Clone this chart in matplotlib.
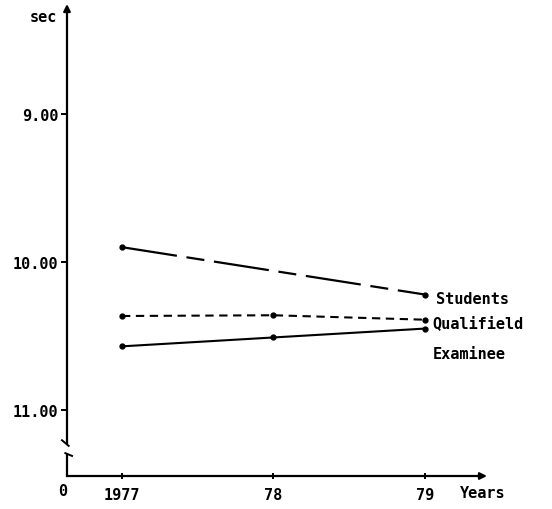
import matplotlib
matplotlib.use("Agg")
import matplotlib.pyplot as plt

# values (seconds, y axis runs downward)
years_students = [1977, 1979]
students = [9.90, 10.22]
years_other = [1977, 1978, 1979]
qualified = [10.365, 10.36, 10.39]
examinee = [10.57, 10.51, 10.45]
year_ticks = [1977, 1978, 1979]
year_labels = ["1977", "78", "79"]
sec_ticks = [9.0, 10.0, 11.0]
sec_labels = ["9.00", "10.00", "11.00"]

plt.rcParams["lines.scale_dashes"] = False
font = dict(family="DejaVu Sans Mono", weight="bold", size=11)

W, H = 552, 510
fig = plt.figure(figsize=(W / 100, H / 100), dpi=100)
# axes box: left at x=67px, right 487px, top 5px, bottom (x axis) 477px
ax = fig.add_axes([67 / W, 1 - 477 / H, (487 - 67) / W, (477 - 5) / H])
ax.set_xlim(1976.637, 1979.41)
ax.set_ylim(11.446, 8.257)
for s in ax.spines.values():
    s.set_visible(False)
ax.patch.set_visible(False)

ax.plot(years_students, students, color="black", lw=1.6, marker="o", ms=3.5,
        dashes=(40, 7, 13, 7))
ax.plot(years_other, qualified, color="black", lw=1.5, marker="o", ms=3.5,
        dashes=(6, 4))
ax.plot(years_other, examinee, color="black", lw=1.5, marker="o", ms=3.5)

ax.text(1979.07, students[-1] + 0.03, "Students", va="center", **font)
ax.text(1979.05, qualified[-1] + 0.02, "Qualifield", va="center", **font)
ax.text(1979.05, 10.62, "Examinee", va="center", **font)

# y axis with break near the bottom
tA = ax.transAxes
yb1 = 1 - (445 - 5) / 472
yb2 = 1 - (456 - 5) / 472
ax.annotate("", xy=(0, 1.0), xytext=(0, yb1), xycoords=tA,
            arrowprops=dict(arrowstyle="-|>", color="black", lw=1.6,
                            mutation_scale=10, shrinkA=0, shrinkB=0))
ax.plot([0, 0], [yb2, 0], color="black", lw=1.6, transform=tA, clip_on=False)
ax.plot([-0.012, 0.004], [yb1 + 0.008, yb1 - 0.004], color="black", lw=1.4,
        transform=tA, clip_on=False)
ax.plot([-0.004, 0.012], [yb2 + 0.004, yb2 - 0.002], color="black", lw=1.4,
        transform=tA, clip_on=False)
# x axis
ax.annotate("", xy=(1.0, 0), xytext=(0, 0), xycoords=tA,
            arrowprops=dict(arrowstyle="-|>", color="black", lw=1.6,
                            mutation_scale=10, shrinkA=0, shrinkB=0))

ax.set_yticks(sec_ticks)
ax.set_yticklabels(sec_labels, **font)
ax.set_xticks(year_ticks)
ax.set_xticklabels(year_labels, **font)
ax.tick_params(axis="y", direction="out", length=4, width=1.4, pad=2)
ax.tick_params(axis="x", direction="inout", length=4, width=1.4, pad=6)

fig.text(30 / W, 1 - 18 / H, "sec", va="center", **font)
fig.text(63 / W, 1 - 492 / H, "0", va="center", ha="center", **font)
fig.text(460 / W, 1 - 494 / H, "Years", va="center", **font)

fig.savefig("out.png", dpi=100)
